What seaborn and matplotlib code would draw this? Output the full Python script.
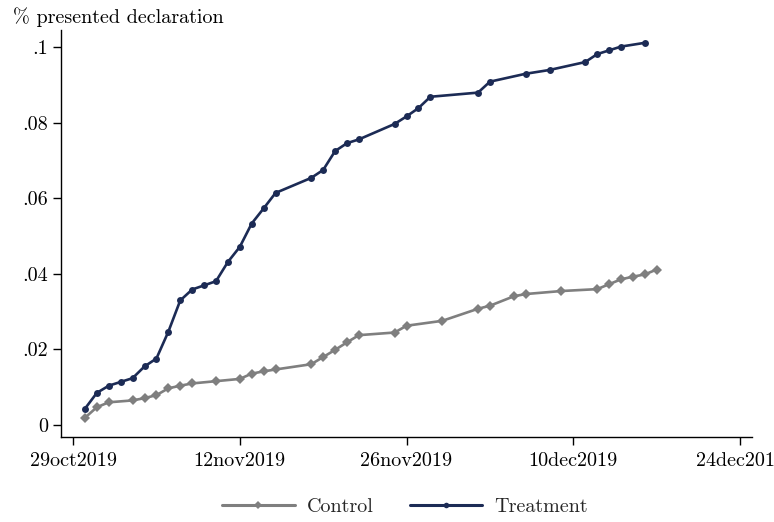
import matplotlib
matplotlib.use("Agg")
import matplotlib.pyplot as plt
import matplotlib.dates as mdates
import numpy as np
import pandas as pd
import seaborn as sns

# Cumulative share of firms that presented a declaration, by group
control_dates = [
    "2019-10-30", "2019-10-31", "2019-11-01", "2019-11-03", "2019-11-04",
    "2019-11-05", "2019-11-06", "2019-11-07", "2019-11-08", "2019-11-10",
    "2019-11-12", "2019-11-13", "2019-11-14", "2019-11-15", "2019-11-18",
    "2019-11-19", "2019-11-20", "2019-11-21", "2019-11-22", "2019-11-25",
    "2019-11-26", "2019-11-29", "2019-12-02", "2019-12-03", "2019-12-05",
    "2019-12-06", "2019-12-09", "2019-12-12", "2019-12-13", "2019-12-14",
    "2019-12-15", "2019-12-16", "2019-12-17",
]
control_values = [
    0.0018, 0.0046, 0.0059, 0.0064, 0.0070, 0.0078, 0.0096, 0.0103, 0.0109,
    0.0115, 0.0121, 0.0135, 0.0141, 0.0146, 0.0160, 0.0179, 0.0198, 0.0218,
    0.0237, 0.0244, 0.0262, 0.0275, 0.0307, 0.0315, 0.0340, 0.0346, 0.0354,
    0.0359, 0.0372, 0.0385, 0.0392, 0.0398, 0.0411,
]

treatment_dates = [
    "2019-10-30", "2019-10-31", "2019-11-01", "2019-11-02", "2019-11-03",
    "2019-11-04", "2019-11-05", "2019-11-06", "2019-11-07", "2019-11-08",
    "2019-11-09", "2019-11-10", "2019-11-11", "2019-11-12", "2019-11-13",
    "2019-11-14", "2019-11-15", "2019-11-18", "2019-11-19", "2019-11-20",
    "2019-11-21", "2019-11-22", "2019-11-25", "2019-11-26", "2019-11-27",
    "2019-11-28", "2019-12-02", "2019-12-03", "2019-12-06", "2019-12-08",
    "2019-12-11", "2019-12-12", "2019-12-13", "2019-12-14", "2019-12-16",
]
treatment_values = [
    0.0042, 0.0084, 0.0103, 0.0113, 0.0123, 0.0154, 0.0175, 0.0246, 0.0329,
    0.0358, 0.0369, 0.0380, 0.0431, 0.0471, 0.0533, 0.0573, 0.0614, 0.0654,
    0.0675, 0.0725, 0.0746, 0.0756, 0.0797, 0.0817, 0.0839, 0.0869, 0.0880,
    0.0909, 0.0930, 0.0940, 0.0961, 0.0982, 0.0992, 0.1002, 0.1012,
]

group_names = ["Control", "Treatment"]
x_ticks = ["2019-10-29", "2019-11-12", "2019-11-26", "2019-12-10", "2019-12-24"]
y_ticks = [0, 0.02, 0.04, 0.06, 0.08, 0.1]
y_tick_labels = ["0", ".02", ".04", ".06", ".08", ".1"]

df = pd.concat([
    pd.DataFrame({"date": pd.to_datetime(control_dates),
                  "share": control_values, "group": group_names[0]}),
    pd.DataFrame({"date": pd.to_datetime(treatment_dates),
                  "share": treatment_values, "group": group_names[1]}),
], ignore_index=True)

sns.set_theme(style="ticks")
plt.rcParams["font.family"] = ["cmr10", "DejaVu Serif"]
plt.rcParams["axes.unicode_minus"] = False
plt.rcParams["mathtext.fontset"] = "cm"
plt.rcParams["axes.formatter.use_mathtext"] = True

colors = {"Control": "#7f7f7f", "Treatment": "#1c2b55"}
markers = {"Control": "D", "Treatment": "o"}

fig = plt.figure(figsize=(7.74, 5.22), dpi=100)
ax = fig.add_axes([61 / 774, 1 - 437 / 522, (752 - 61) / 774, (437 - 30) / 522])

sns.lineplot(data=df, x="date", y="share", hue="group", style="group",
             palette=colors, markers=markers, dashes=False,
             linewidth=1.9, markersize=5, markeredgewidth=0,
             ax=ax, legend=False)

for line in ax.get_lines():
    if line.get_marker() == "D":
        line.set_markersize(5.5)

x0 = pd.Timestamp("2019-10-29")
ax.set_xlim(x0 - pd.Timedelta(days=1.01), x0 + pd.Timedelta(days=57.0))
ax.set_ylim(-0.0033, 0.1046)

ax.set_xticks(pd.to_datetime(x_ticks))
ax.set_xticklabels([pd.Timestamp(d).strftime("%d%b%Y").lower() for d in x_ticks])
ax.set_yticks(y_ticks)
ax.set_yticklabels(y_tick_labels)

for side in ["top", "right"]:
    ax.spines[side].set_visible(False)
for side in ["left", "bottom"]:
    ax.spines[side].set_linewidth(1.0)
    ax.spines[side].set_color("black")

ax.tick_params(axis="x", length=5.5, width=1.0, pad=5, labelsize=14.5, colors="black")
ax.tick_params(axis="y", length=5.5, width=1.0, pad=4, labelsize=14.5, colors="black")
ax.set_xlabel("")
ax.set_ylabel("")

fig.text(13 / 774, 1 - 17 / 522, "% presented declaration", fontsize=14.5,
         ha="left", va="center", color="black")

handles = [
    plt.Line2D([], [], color=colors["Control"], marker="D", markersize=4,
               linewidth=2.2, markeredgewidth=0),
    plt.Line2D([], [], color=colors["Treatment"], marker="o", markersize=4,
               linewidth=2.2, markeredgewidth=0),
]
fig.legend(handles, group_names, loc="center", bbox_to_anchor=(405 / 774, 1 - 507 / 522),
           ncol=2, frameon=False, fontsize=14.5, handlelength=3.6,
           handletextpad=0.6, columnspacing=1.8)

fig.savefig("out.png", dpi=100)
